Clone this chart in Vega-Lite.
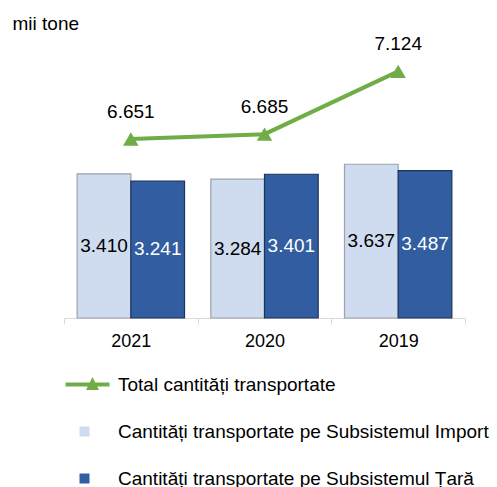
{
  "$schema": "https://vega.github.io/schema/vega-lite/v6.json",
  "width": 401,
  "height": 279,
  "autosize": {"type": "none"},
  "padding": {"left": 64, "top": 39, "right": 32, "bottom": 169},
  "background": "white",
  "config": {
    "font": "Liberation Sans",
    "view": {"stroke": null},
    "locale": {"number": {"decimal": ",", "thousands": ".", "grouping": [3], "currency": ["", " lei"]}}
  },
  "datasets": {
    "bars": [
      {"an": "2021", "serie": "Cantități transportate pe Subsistemul Import", "valoare": 3410},
      {"an": "2021", "serie": "Cantități transportate pe Subsistemul Țară", "valoare": 3241},
      {"an": "2020", "serie": "Cantități transportate pe Subsistemul Import", "valoare": 3284},
      {"an": "2020", "serie": "Cantități transportate pe Subsistemul Țară", "valoare": 3401},
      {"an": "2019", "serie": "Cantități transportate pe Subsistemul Import", "valoare": 3637},
      {"an": "2019", "serie": "Cantități transportate pe Subsistemul Țară", "valoare": 3487}
    ],
    "total": [
      {"an": "2021", "serie": "Total cantități transportate", "valoare": 6651},
      {"an": "2020", "serie": "Total cantități transportate", "valoare": 6685},
      {"an": "2019", "serie": "Total cantități transportate", "valoare": 7124}
    ]
  },
  "encoding": {
    "x": {
      "field": "an", "type": "nominal", "sort": ["2021", "2020", "2019"],
      "scale": {"paddingInner": 0, "paddingOuter": 0},
      "axis": {"title": null, "labelAngle": 0, "labelFontSize": 18, "labelColor": "#000000", "labelPadding": 8,
               "domainColor": "#d9d9d9", "tickColor": "#d9d9d9", "tickBand": "extent", "tickSize": 6, "grid": false}
    }
  },
  "layer": [
    {
      "data": {"name": "bars"},
      "layer": [
        {
          "mark": {"type": "bar", "strokeWidth": 1.2},
          "encoding": {
            "xOffset": {"field": "serie", "type": "nominal", "scale": {"paddingInner": 0, "paddingOuter": 0.245}},
            "y": {
              "field": "valoare", "type": "quantitative",
              "scale": {"domain": [0, 6600], "nice": false},
              "axis": {"labels": false, "ticks": false, "domain": false, "grid": false, "title": "mii tone",
                       "titleAngle": 0, "titleAlign": "left", "titleBaseline": "middle", "titleX": -52, "titleY": -16,
                       "titleFontSize": 19, "titleFontWeight": "normal", "titleColor": "#000000"}
            },
            "color": {
              "field": "serie", "type": "nominal",
              "scale": {
                "domain": ["Total cantități transportate", "Cantități transportate pe Subsistemul Import", "Cantități transportate pe Subsistemul Țară"],
                "range": ["#70AD47", "#CFDBEE", "#325DA0"]
              },
              "legend": {
                "title": null, "orient": "none", "legendX": 11, "legendY": 336, "direction": "vertical",
                "labelFontSize": 19, "labelColor": "#000000", "labelOffset": 24, "symbolSize": 100,
                "symbolStrokeWidth": 0, "rowPadding": 27, "labelLimit": 500, "padding": 0
              }
            },
            "stroke": {
              "condition": {"test": "indexof(datum.serie, 'Import') >= 0", "value": "#9aa3ad"},
              "value": "#1c345c"
            }
          }
        },
        {
          "transform": [{"calculate": "datum.valoare / 2", "as": "mijloc"}],
          "mark": {"type": "text", "fontSize": 19, "baseline": "middle"},
          "encoding": {
            "xOffset": {"field": "serie", "type": "nominal", "scale": {"paddingInner": 0, "paddingOuter": 0.245}},
            "y": {"field": "mijloc", "type": "quantitative"},
            "text": {"field": "valoare", "type": "quantitative", "format": ",d"},
            "color": {
              "condition": {"test": "indexof(datum.serie, 'Import') >= 0", "value": "#000000"},
              "value": "#ffffff"
            }
          }
        }
      ]
    },
    {
      "data": {"name": "total"},
      "encoding": {
        "y": {"field": "valoare", "type": "quantitative", "scale": {"domain": [5400, 7350], "nice": false, "zero": false}, "axis": null}
      },
      "layer": [
        {"mark": {"type": "line", "color": "#70AD47", "strokeWidth": 4}},
        {
          "mark": {"type": "point", "filled": true, "size": 240, "opacity": 1, "shape": "triangle-up", "color": "#70AD47"}
        },
        {
          "mark": {"type": "point", "filled": true, "size": 0},
          "encoding": {
            "color": {"field": "serie", "type": "nominal"},
            "shape": {
              "field": "serie", "type": "nominal",
              "scale": {
                "domain": ["Total cantități transportate", "Cantități transportate pe Subsistemul Import", "Cantități transportate pe Subsistemul Țară"],
                "range": ["M-3.8,-0.4H5V0.4H-3.8Z M1.6,-1.5L2.9,1.1L0.3,1.1Z", "square", "square"]
              },
              "legend": {"title": null}
            }
          }
        },
        {
          "mark": {"type": "text", "fontSize": 19, "dy": -27, "color": "#000000"},
          "encoding": {"text": {"field": "valoare", "type": "quantitative", "format": ",d"}}
        }
      ]
    }
  ],
  "resolve": {"scale": {"y": "independent"}}
}
